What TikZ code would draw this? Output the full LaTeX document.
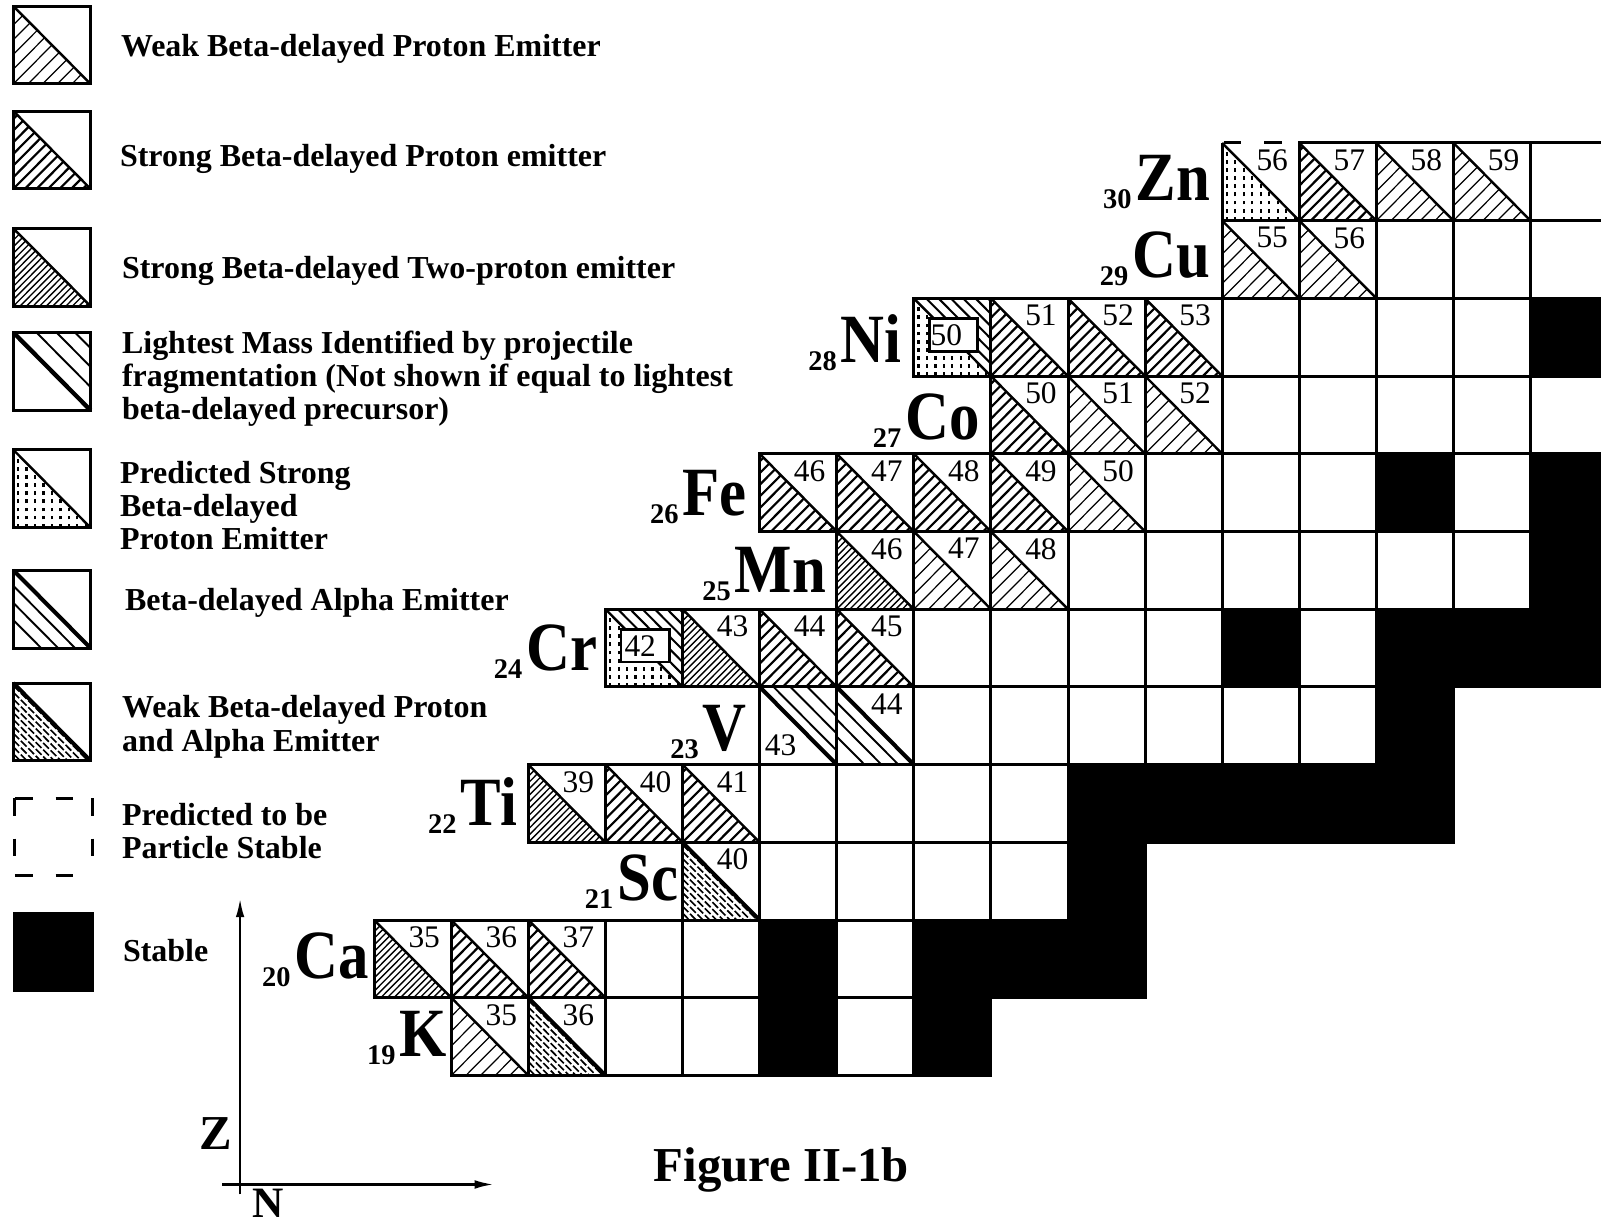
\documentclass[tikz,border=0pt]{standalone}
\usepackage{fontspec}
\setmainfont{Liberation Serif}
\newfontfamily\symbfont[FakeStretch=0.88]{Liberation Serif}
\usetikzlibrary{arrows.meta}

\newcommand{\elem}[2]{{\normalfont\bfseries\fontsize{10.5}{10.5}\selectfont\raisebox{-3pt}{#1}}\kern1.5pt#2}

\tikzset{
	cellbox/.style={draw, line width=1.1pt},
	stablebox/.style={draw, fill=black, line width=1.1pt},
	massnum/.style={font=\fontsize{11.6}{11.6}\selectfont, inner sep=0pt, anchor=north east},
	elemlabel/.style={font=\symbfont\bfseries\fontsize{25.5}{25.5}\selectfont, inner sep=0pt, anchor=base east},
	legtext/.style={font=\bfseries\fontsize{11.8}{12.3}\selectfont, inner sep=0pt, anchor=base west},
	dashedge/.style={line width=1.1pt, dash pattern=on 6.5pt off 8.5pt},
	dotline/.style={line width=0.8pt, dash pattern=on 1.4pt off 1.6pt},
	pdash/.style={line width=0.6pt, dash pattern=on 3pt off 0.9pt},
	axisarrow/.style={line width=0.9pt, -{Latex[length=7pt,width=3.2pt]}},
	% lower-left triangles
	pics/weakp/.style={code={
		\begin{scope}
			\clip (0,0) -- (1,0) -- (0,1) -- cycle;
			\foreach \i in {-5,...,5} \draw[line width=0.45pt] (\i*0.19,0) -- ++(1,1);
		\end{scope}
		\draw[line width=0.9pt] (0,1) -- (1,0);
	}},
	pics/strongp/.style={code={
		\begin{scope}
			\clip (0,0) -- (1,0) -- (0,1) -- cycle;
			\foreach \i in {-6,...,6} \draw[line width=0.8pt] (\i*0.15,0) -- ++(1,1);
		\end{scope}
		\draw[line width=0.9pt] (0,1) -- (1,0);
	}},
	pics/twop/.style={code={
		\begin{scope}
			\clip (0,0) -- (1,0) -- (0,1) -- cycle;
			\foreach \i in {-11,...,11} \draw[line width=0.5pt] (\i*0.085,0) -- ++(1,1);
		\end{scope}
		\draw[line width=0.9pt] (0,1) -- (1,0);
	}},
	pics/predp/.style={code={
		\begin{scope}
			\clip (0,0) -- (1,0) -- (0,1) -- cycle;
			\foreach \i in {0,...,8} \draw[dotline] (0.06+\i*0.11,0) -- ++(0,1);
		\end{scope}
		\draw[line width=0.9pt] (0,1) -- (1,0);
	}},
	pics/palpha/.style={code={
		\begin{scope}
			\clip (0,0) -- (1,0) -- (0,1) -- cycle;
			\foreach \i in {1,...,11} \draw[pdash] (0,\i*0.088) -- (\i*0.088,0);
		\end{scope}
		\draw[line width=1.4pt] (0,1) -- (1,0);
	}},
	% diagonal bands
	pics/alphalo/.style={code={
		\draw[line width=1.5pt] (0,1) -- (1,0);
		\foreach \d in {0.2,0.42,0.64} \draw[line width=0.7pt] (0,1-\d) -- (1-\d,0);
	}},
	pics/alphahi/.style={code={
		\draw[line width=1.5pt] (0,1) -- (1,0);
		\foreach \d in {0.18,0.4,0.62} \draw[line width=0.7pt] (\d,1) -- (1,\d);
	}},
	pics/frag/.style={code={
		\draw[line width=1.6pt] (0,1) -- (1,0);
		\foreach \d in {0.3,0.56,0.8} \draw[line width=0.7pt] (\d,1) -- (1,\d);
	}},
	pics/fragpred/.style={code={
		\begin{scope}
			\clip (0,1) -- (1,1) -- (1,0) -- cycle;
			\foreach \i in {1,...,6} \draw[line width=0.75pt] (\i*0.16,1) -- (1,\i*0.16);
		\end{scope}
		\begin{scope}
			\clip (0,0) -- (1,0) -- (0,1) -- cycle;
			\foreach \i in {0,...,8} \draw[dotline] (0.06+\i*0.11,0) -- ++(0,1);
		\end{scope}
		\draw[line width=0.9pt] (0,1) -- (1,0);
		\draw[line width=1pt, fill=white] (0.2,0.32) rectangle (0.83,0.74);
	}},
}

\begin{document}
\begin{tikzpicture}[x=1cm, y=1.008cm]
	\useasboundingbox (10.146,17.084) rectangle (30.914,32.84);
	\clip (10.146,17.084) rectangle (30.914,32.84);

	% legend
	\foreach \y in {31.76,30.41,28.90,27.56,26.05,24.50,23.05}
		\draw[cellbox] (10.32,\y) rectangle ++(1,1);
	\pic at (10.32,31.76) {weakp};
	\pic at (10.32,30.41) {strongp};
	\pic at (10.32,28.90) {twop};
	\pic at (10.32,27.56) {frag};
	\pic at (10.32,26.05) {predp};
	\pic at (10.32,24.50) {alphalo};
	\pic at (10.32,23.05) {palpha};
	\coordinate (dtl) at (10.34,22.57);
	\coordinate (dtr) at (11.34,22.57);
	\coordinate (dbl) at (10.34,21.57);
	\coordinate (dbr) at (11.34,21.57);
	\draw[dashedge] (dtl) -- (dtr);
	\draw[dashedge] (dtl) -- (dbl);
	\draw[dashedge] (dtr) -- (dbr);
	\draw[dashedge] (dbl) -- (dbr);
	\draw[stablebox] (10.34,20.09) rectangle ++(1,1);

	\foreach \x/\y/\t in {11.709/32.11/Weak Beta-delayed Proton Emitter,
			11.696/30.694/Strong Beta-delayed Proton emitter,
			11.722/29.259/Strong Beta-delayed Two-proton emitter,
			11.722/28.293/Lightest Mass Identified by projectile,
			11.722/27.866/fragmentation (Not shown if equal to lightest,
			11.722/27.439/beta-delayed precursor),
			11.696/26.624/Predicted Strong,
			11.696/26.197/Beta-delayed,
			11.696/25.77/Proton Emitter,
			11.762/24.989/Beta-delayed Alpha Emitter,
			11.722/23.602/Weak Beta-delayed Proton,
			11.722/23.175/and Alpha Emitter,
			11.722/22.222/Predicted to be,
			11.722/21.795/Particle Stable,
			11.735/20.462/Stable}
		\node[legtext] (leg-\y) at (\x,\y) {\t};

	% chart rows
	\foreach \z/\first/\last in {19/16/22, 20/15/24, 21/19/24, 22/17/28, 23/20/28, 24/18/30,
			25/21/30, 26/20/30, 27/23/30, 28/22/30, 29/26/30, 30/27/30} {
		\foreach \n in {\first,...,\last}
			\draw[cellbox] (\n,\z) rectangle ++(1,1);
	}
	\draw[cellbox] (26,31) -- (26,30) -- (27,30);
	\draw[dashedge] (26.02,31) -- (27,31);

	% stable
	\foreach \z/\n in {19/20, 19/22, 20/20, 20/22, 20/23, 20/24, 21/24, 22/24, 22/25, 22/26,
			22/27, 22/28, 23/28, 24/26, 24/28, 24/29, 24/30, 25/30, 26/28, 26/30, 28/30}
		\draw[stablebox] (\n,\z) rectangle ++(1,1);

	% emitters
	\pic at (26,30) {predp};
	\pic at (27,30) {strongp};
	\pic at (28,30) {weakp};
	\pic at (29,30) {weakp};
	\pic at (26,29) {weakp};
	\pic at (27,29) {weakp};
	\pic at (22,28) {fragpred};
	\pic at (23,28) {strongp};
	\pic at (24,28) {strongp};
	\pic at (25,28) {strongp};
	\pic at (23,27) {strongp};
	\pic at (24,27) {weakp};
	\pic at (25,27) {weakp};
	\pic at (20,26) {strongp};
	\pic at (21,26) {strongp};
	\pic at (22,26) {strongp};
	\pic at (23,26) {strongp};
	\pic at (24,26) {weakp};
	\pic at (21,25) {twop};
	\pic at (22,25) {weakp};
	\pic at (23,25) {weakp};
	\pic at (18,24) {fragpred};
	\pic at (19,24) {twop};
	\pic at (20,24) {strongp};
	\pic at (21,24) {strongp};
	\pic at (20,23) {alphahi};
	\pic at (21,23) {alphalo};
	\pic at (17,22) {twop};
	\pic at (18,22) {strongp};
	\pic at (19,22) {strongp};
	\pic at (19,21) {palpha};
	\pic at (15,20) {twop};
	\pic at (16,20) {strongp};
	\pic at (17,20) {strongp};
	\pic at (16,19) {weakp};
	\pic at (17,19) {palpha};

	% mass numbers
	\foreach \n/\z/\a in {26/30/56, 27/30/57, 28/30/58, 29/30/59, 26/29/55, 27/29/56,
			23/28/51, 24/28/52, 25/28/53, 23/27/50, 24/27/51, 25/27/52,
			20/26/46, 21/26/47, 22/26/48, 23/26/49, 24/26/50, 21/25/46, 22/25/47, 23/25/48,
			19/24/43, 20/24/44, 21/24/45, 21/23/44, 17/22/39, 18/22/40, 19/22/41, 19/21/40,
			15/20/35, 16/20/36, 17/20/37, 16/19/35, 17/19/36}
		\node[massnum] (m\z-\n) at (\n+0.86,\z+0.92) {\a};
	\node[massnum, anchor=south west] (m23-20) at (20.06,23.1) {43};
	\node[massnum, anchor=west] (m24-18) at (18.24,24.53) {42};
	\node[massnum, anchor=west] (m28-22) at (22.21,28.53) {50};

	% element symbols
	\node[elemlabel] (zn) at (25.85,30.26) {\elem{30}{Zn}};
	\node[elemlabel] (cu) at (25.85,29.266) {\elem{29}{Cu}};
	\node[elemlabel] (ni) at (21.85,28.175) {\elem{28}{Ni}};
	\node[elemlabel] (co) at (22.86,27.19) {\elem{27}{Co}};
	\node[elemlabel] (fe) at (19.84,26.204) {\elem{26}{Fe}};
	\node[elemlabel] (mn) at (20.87,25.219) {\elem{25}{Mn}};
	\node[elemlabel] (cr) at (17.9,24.207) {\elem{24}{Cr}};
	\node[elemlabel] (v) at (19.84,23.182) {\elem{23}{V}};
	\node[elemlabel] (ti) at (16.86,22.222) {\elem{22}{Ti}};
	\node[elemlabel] (sc) at (18.95,21.25) {\elem{21}{Sc}};
	\node[elemlabel] (ca) at (14.94,20.25) {\elem{20}{Ca}};
	\node[elemlabel] (k) at (15.95,19.24) {\elem{19}{K}};

	% axes
	\coordinate (zfoot) at (13.26,17.47);
	\coordinate (ztip) at (13.26,21.28);
	\coordinate (nfoot) at (13.03,17.597);
	\coordinate (ntip) at (16.55,17.597);
	\draw[axisarrow] (zfoot) -- (ztip);
	\draw[axisarrow] (nfoot) -- (ntip);
	\node[font=\bfseries\fontsize{18}{18}\selectfont, inner sep=0pt] (zlabel) at (12.94,18.254) {Z};
	\node[font=\bfseries\fontsize{16}{16}\selectfont, inner sep=0pt, anchor=north west] (nlabel) at (13.42,17.55) {N};
	\node[font=\bfseries\fontsize{18}{18}\selectfont, inner sep=0pt, anchor=base west] (figlabel) at (18.62,17.636) {Figure II-1b};
\end{tikzpicture}
\end{document}
